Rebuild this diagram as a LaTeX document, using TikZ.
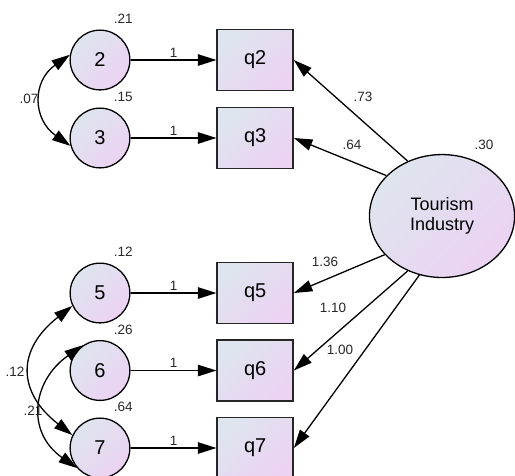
\documentclass[tikz,border=0pt]{standalone}
\usepackage{fontspec}
\setmainfont{Liberation Sans}
\usepackage{tikz}
\usetikzlibrary{shapes.geometric, calc, positioning, arrows.meta}

\definecolor{amosblue}{RGB}{222,229,238}
\definecolor{amospink}{RGB}{236,210,243}
\definecolor{lblgray}{RGB}{40,40,40}

\tikzset{
    amosfill/.style={top color=amosblue, bottom color=amospink, shading angle=45},
    errvar/.style={circle, draw, line width=1.3pt, amosfill, minimum size=2.1cm, inner sep=0pt, font=\fontsize{20}{22}\selectfont},
    item/.style={rectangle, draw=black!85, line width=1.4pt, amosfill, minimum width=2.67cm, minimum height=2.14cm, inner sep=0pt, font=\fontsize{20}{22}\selectfont},
    factor/.style={ellipse, draw, line width=1.3pt, amosfill, minimum width=5.1cm, minimum height=4.32cm, inner sep=0pt, align=center, font=\fontsize{18}{20}\selectfont},
    lbl/.style={text=lblgray, inner sep=1pt, font=\fontsize{13.5}{15}\selectfont},
    path/.style={line width=1.3pt, -{Triangle[length=0.65cm, width=0.4cm]}},
    cov/.style={line width=1.3pt, {Triangle[length=0.65cm, width=0.4cm]}-{Triangle[length=0.65cm, width=0.4cm]}}
}

\begin{document}
\begin{tikzpicture}
    \useasboundingbox (0,0) rectangle (18.1,-16.694);
    \clip (0,0) rectangle (18.1,-16.694);
    % Error terms
    \node[errvar] (e2) at (3.515,-2.109) {2};
    \node[errvar] (e3) at (3.515,-4.850) {3};
    \node[errvar] (e5) at (3.515,-10.298) {5};
    \node[errvar] (e6) at (3.515,-13.022) {6};
    \node[errvar] (e7) at (3.515,-15.745) {7};
    % Observed items
    \node[item, right=3.02cm of e2] (q2) {q2};
    \node[item, right=3.02cm of e3] (q3) {q3};
    \node[item, right=3.02cm of e5] (q5) {q5};
    \node[item, right=3.02cm of e6] (q6) {q6};
    \node[item, right=3.02cm of e7] (q7) {q7};
    % Latent factor
    \node[factor] (tourism) at (15.535,-7.592) {Tourism\\Industry};
    \node[lbl] at (17.011,-5.096) {.30};
    % Error paths
    \draw[path] (e2) -- node[lbl, above=1pt] {1} (q2);
    \draw[path] (e3) -- node[lbl, above=1pt] {1} (q3);
    \draw[path] (e5) -- node[lbl, above=1pt] {1} (q5);
    \draw[path] (e6) -- node[lbl, above=1pt] {1} (q6);
    \draw[path] (e7) -- node[lbl, above=1pt] {1} (q7);
    % Variances
    \node[lbl] at ($(e2.north)+(0.82,0.37)$) {.21};
    \node[lbl] at ($(e3.north)+(0.82,0.37)$) {.15};
    \node[lbl] at ($(e5.north)+(0.82,0.37)$) {.12};
    \node[lbl] at ($(e6.north)+(0.82,0.37)$) {.26};
    \node[lbl] at ($(e7.north)+(0.82,0.37)$) {.64};
    % Loadings
    \draw[path] (tourism.122) -- (q2.east);
    \draw[path] (tourism.144) -- (q3.east);
    \draw[path] (tourism.214) -- (q5.east);
    \draw[path] (tourism.238) -- (q6.east);
    \draw[path] (tourism.249) -- (q7.east);
    \node[lbl] at (12.758,-3.409) {.73};
    \node[lbl] at (12.371,-5.096) {.64};
    \node[lbl] at (11.422,-9.208) {1.36};
    \node[lbl] at (11.704,-10.825) {1.10};
    \node[lbl] at (11.950,-12.301) {1.00};
    % Covariances
    \draw[cov] (e2.170) to[out=215, in=145, looseness=1.3] (e3.195);
    \node[lbl] at (1.019,-3.479) {.07};
    \draw[cov] (e5.205) to[out=218, in=142, looseness=1.4] (e7.155);
    \node[lbl] at (0.527,-13.074) {.12};
    \draw[cov] (e6.124) to[out=215, in=145, looseness=1.3] (e7.221);
    \node[lbl] at (1.160,-14.445) {.21};
\end{tikzpicture}
\end{document}
